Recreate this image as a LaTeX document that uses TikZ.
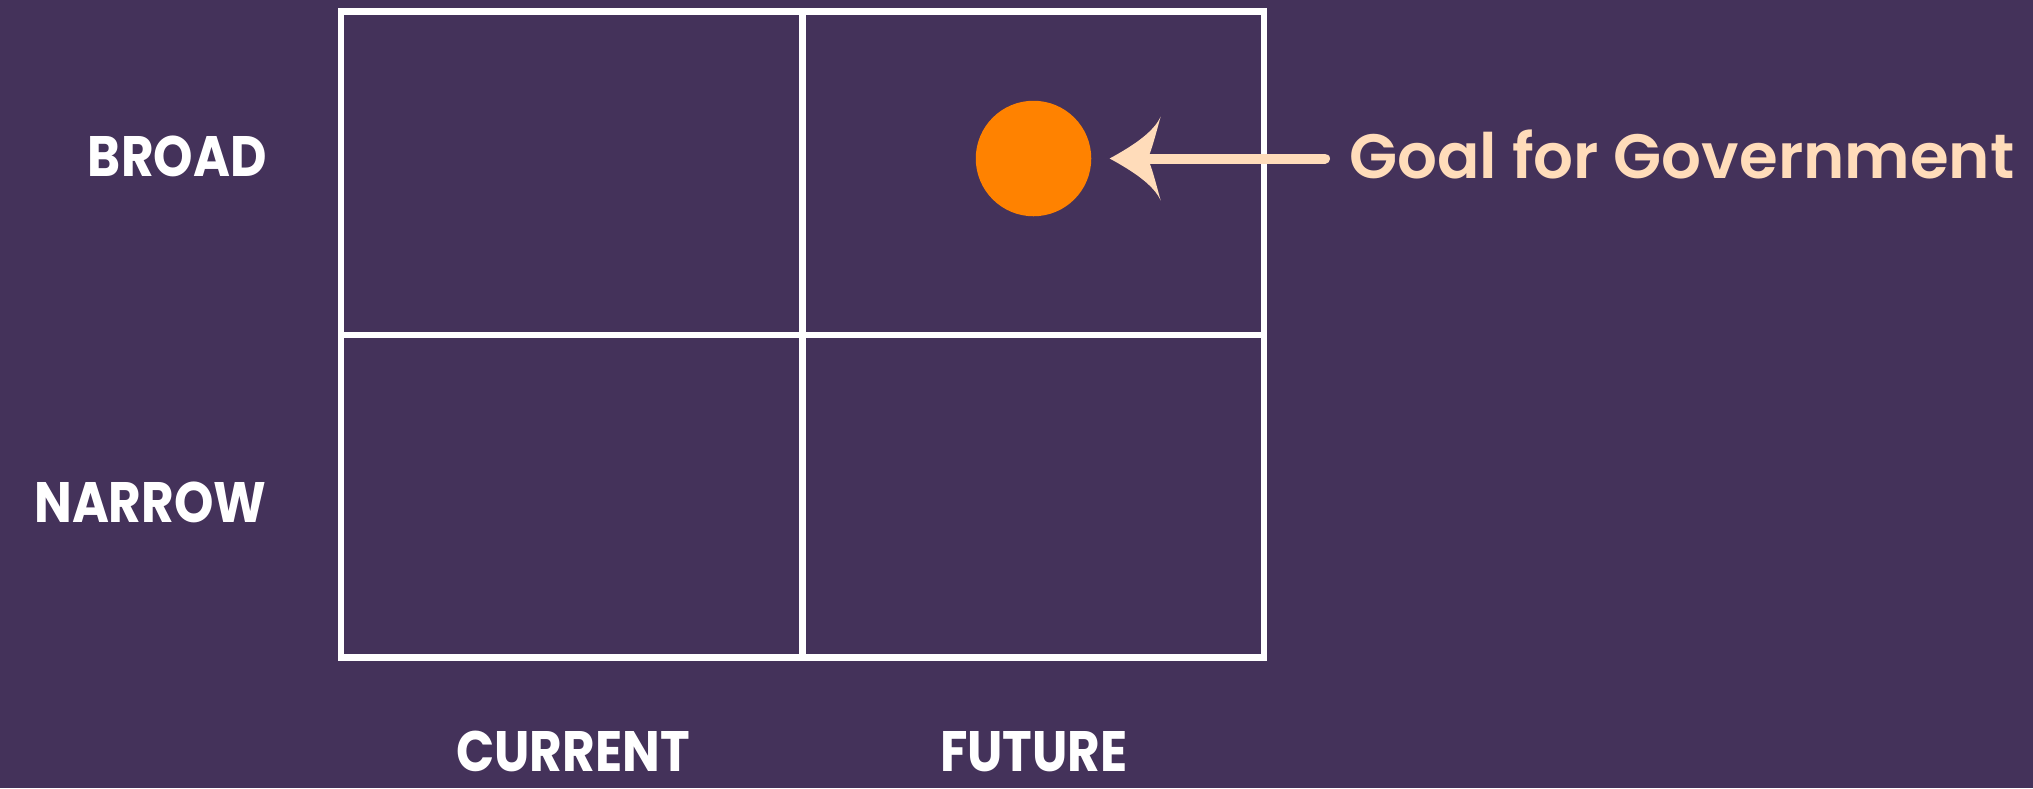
\documentclass[tikz,border=0pt]{standalone}
\usepackage{fontspec}
\setmainfont{Poppins}
\newfontfamily\capsfont{Poppins Bold}[FakeStretch=0.88]
\newfontfamily\goalfont{Poppins SemiBold}
\usetikzlibrary{calc}
\definecolor{bgpurple}{RGB}{68,50,90}
\definecolor{dotorange}{RGB}{255,130,0}
\definecolor{peach}{RGB}{255,220,186}
\tikzset{
  gridline/.style={draw=white, line width=3.35pt},
  axislabel/.style={text=white, font=\capsfont\fontsize{28.5pt}{30pt}\selectfont, inner sep=0pt},
  goallabel/.style={text=peach, font=\goalfont\fontsize{31.3pt}{34pt}\selectfont, inner sep=0pt},
  arrowline/.style={draw=peach, line width=5pt, line cap=round},
}
\begin{document}
\begin{tikzpicture}[x=0.5pt, y=-0.5pt]
  \fill[bgpurple] (0,0) rectangle (2033,788);
  \useasboundingbox (0,0) rectangle (2033,788);
  % grid
  \draw[gridline] (341,11.7) rectangle (1264,657.5);
  \draw[gridline] (802.5,11.7) -- (802.5,657.5);
  \draw[gridline] (341,335) -- (1264,335);
  % axis labels
  \node[axislabel, anchor=base east] (broad) at (267,176) {BROAD};
  \node[axislabel, anchor=base east] (narrow) at (267,522.5) {NARROW};
  \node[axislabel, anchor=base] (current) at (573,771) {CURRENT};
  \node[axislabel, anchor=base] (future) at (1034,771) {FUTURE};
  % goal
  \node[circle, fill=dotorange, inner sep=0pt, minimum size=57.75pt] (dot) at (1033.5,158.5) {};
  \node[goallabel, anchor=base west] (goal) at (1349,178) {Goal for Government};
  \coordinate (tip) at ([xshift=9pt]dot.east);
  \draw[arrowline] ([xshift=-12pt]goal.west |- tip) -- ($(tip)+(40,0)$);
  \fill[peach] (tip)
    .. controls ($(tip)+(22,-12)$) and ($(tip)+(44,-26)$) .. ($(tip)+(51,-42)$)
    .. controls ($(tip)+(46,-24)$) and ($(tip)+(42,-8)$) .. ($(tip)+(38,0)$)
    .. controls ($(tip)+(42,8)$) and ($(tip)+(46,24)$) .. ($(tip)+(51,42)$)
    .. controls ($(tip)+(44,26)$) and ($(tip)+(22,12)$) .. (tip) -- cycle;
\end{tikzpicture}
\end{document}
